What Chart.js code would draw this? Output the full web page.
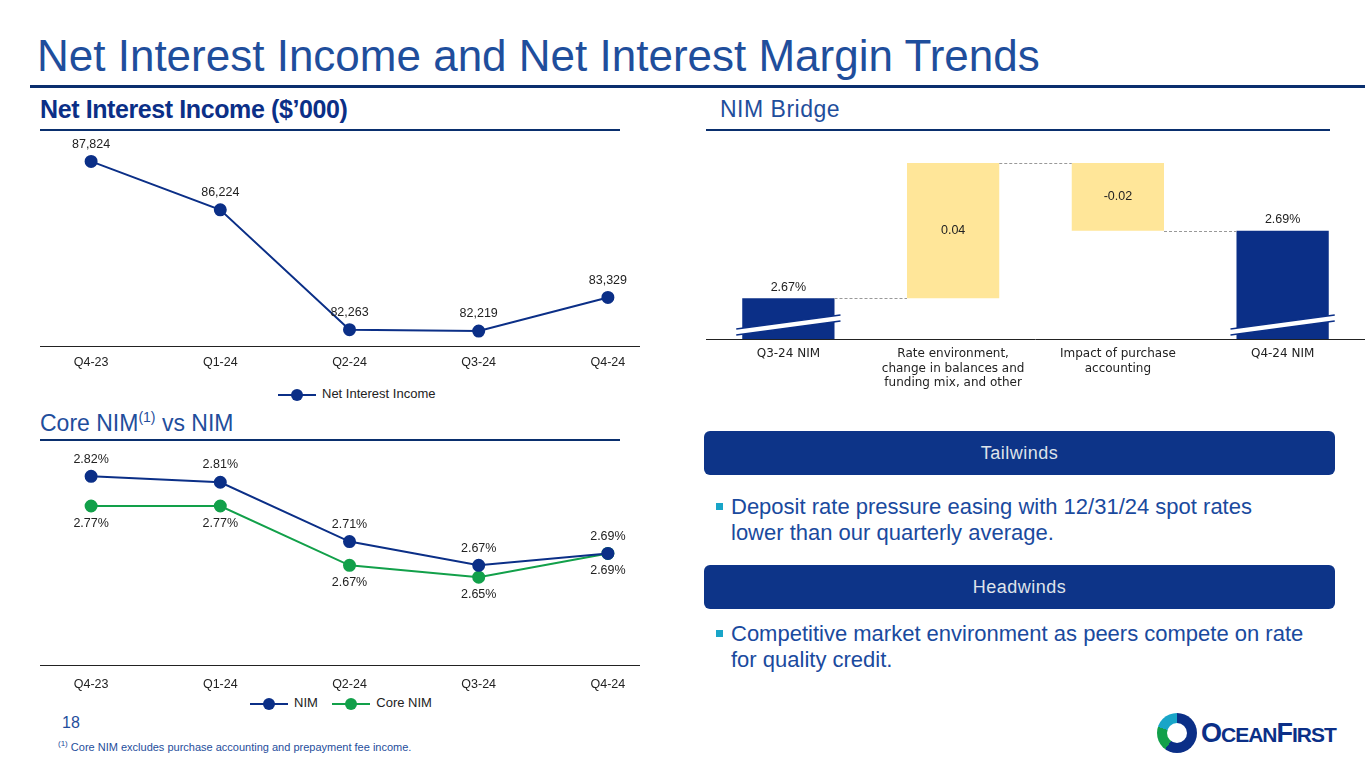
<!DOCTYPE html>
<html><head><meta charset="utf-8">
<script src="https://cdn.jsdelivr.net/npm/chart.js@4/dist/chart.umd.min.js"></script>
<style>
body{margin:0;width:1365px;height:768px;position:relative;background:#fff;font-family:"Liberation Sans",Arial,sans-serif;overflow:hidden}
.a{position:absolute;white-space:nowrap}
canvas{position:absolute}
.box{position:absolute;left:704px;width:631px;height:44px;background:#0d3488;border-radius:6px;color:#dfe3ea;font-size:18px;text-align:center;line-height:44px;letter-spacing:0.5px}
.bul{position:absolute;left:731px;color:#1a4a9e;font-size:22px;line-height:26px}
.bul:before{content:"";position:absolute;left:-15px;top:9px;width:7px;height:7px;background:#19a5c8}
.leg{position:absolute;font-size:13px;color:#222}
.leg i{display:inline-block;width:38px;height:2px;vertical-align:middle;position:relative;margin-right:6px}
.leg i:after{content:"";position:absolute;left:13px;top:-5px;width:12px;height:12px;border-radius:6px;background:inherit}
</style></head><body>
<div class="a" style="left:37px;top:31px;font-size:44px;color:#1f4e9c">Net Interest Income and Net Interest Margin Trends</div>
<div class="a" style="left:30px;top:85px;width:1335px;height:3px;background:#0a2f6e"></div>
<div class="a" style="left:40px;top:95px;font-size:25px;font-weight:bold;color:#0b2f87;letter-spacing:-0.4px">Net Interest Income ($’000)</div>
<div class="a" style="left:720px;top:96px;font-size:23px;color:#1f4e9c;letter-spacing:0.5px">NIM Bridge</div>
<div class="a" style="left:706px;top:129px;width:624px;height:2px;background:#0a2f6e"></div>
<div class="a" style="left:40px;top:409px;font-size:23px;color:#1f4e9c">Core NIM<sup style="font-size:14px">(1)</sup> vs NIM</div>
<canvas id="c1" width="661" height="256" style="left:19px;top:120px"></canvas>
<canvas id="c2" width="661" height="260" style="left:19px;top:435px"></canvas>
<canvas id="c3" width="659" height="253" style="left:706px;top:146px"></canvas>
<div class="a" style="left:40px;top:129px;width:580px;height:2px;background:#0a2f6e"></div>
<div class="a" style="left:40px;top:439px;width:580px;height:2px;background:#0a2f6e"></div>
<div class="leg" style="left:278px;top:386px"><i style="background:#0b2f87"></i>Net Interest Income</div>
<div class="leg" style="left:250px;top:695px"><i style="background:#0b2f87"></i>NIM&nbsp;&nbsp;&nbsp;&nbsp;<i style="background:#12a04a"></i>Core NIM</div>
<div class="box" style="top:431px">Tailwinds</div>
<div class="box" style="top:565px">Headwinds</div>
<div class="bul" style="top:494px">Deposit rate pressure easing with 12/31/24 spot rates<br>lower than our quarterly average.</div>
<div class="bul" style="top:621px">Competitive market environment as peers compete on rate<br>for quality credit.</div>
<div class="a" style="left:62px;top:714px;font-size:16px;color:#1f4e9c">18</div>
<div class="a" style="left:58px;top:739px;font-size:11px;color:#1f4e9c"><sup style="font-size:8px">(1)</sup> Core NIM excludes purchase accounting and prepayment fee income.</div>
<div class="a" style="left:1157px;top:713px;width:40px;height:40px;border-radius:50%;background:conic-gradient(#0b2f87 0 60%,#12a04a 60% 80%,#19a5c8 80%)"></div>
<div class="a" style="left:1167px;top:723px;width:20px;height:20px;border-radius:50%;background:#fff"></div>
<div class="a" style="left:1201px;top:718px;font-size:27px;font-weight:bold;color:#0b2f87;letter-spacing:-1px">O<span style="font-size:21px">CEAN</span>F<span style="font-size:21px">IRST</span></div>
<script>
const quarters=["Q4-23","Q1-24","Q2-24","Q3-24","Q4-24"];
const nii=[87824,86224,82263,82219,83329];
const nim=[2.82,2.81,2.71,2.67,2.69];
const coreNim=[2.77,2.77,2.67,2.65,2.69];
const bridgeCats=[["Q3-24 NIM"],["Rate environment,","change in balances and","funding mix, and other"],["Impact of purchase","accounting"],["Q4-24 NIM"]];
const bridgeStart=[2.67,2.67,2.71,2.69];
const bridgeEnd=[2.67,2.71,2.69,2.69];
const bridgeLabels=["2.67%","0.04","-0.02","2.69%"];
const bridgeBase=2.658;
const NAVY="#0b2f87",GREEN="#12a04a";
Chart.defaults.font.family='"Liberation Sans",Arial,sans-serif';
Chart.defaults.color="#222";
function axisLine(l,r){return{id:'ax',afterDraw(c){const a=c.chartArea,x=c.ctx;x.save();x.strokeStyle='#222';x.lineWidth=1;x.beginPath();x.moveTo(l==null?a.left:l,a.bottom+0.5);x.lineTo(r==null?a.right:r,a.bottom+0.5);x.stroke();x.restore();}};}
function xScale(pad,lines){return{offset:true,grid:{display:false,drawTicks:false},border:{display:false},afterFit(s){s.height=lines},ticks:{padding:pad,font:{size:12.5},color:'#222'}};}
function labels(cfg){return{id:'lbl',afterDatasetsDraw(c){const x=c.ctx;x.save();x.font='12.5px "Liberation Sans",Arial';x.fillStyle='#222';x.textAlign='center';
cfg.forEach(([ds,fmt,pos])=>{c.getDatasetMeta(ds).data.forEach((p,i)=>{const v=c.data.datasets[ds].data[i];const below=pos(i);x.textBaseline=below?'top':'bottom';x.fillText(fmt(v),p.x,below?p.y+11:p.y-11);});});x.restore();}};}
const topPad={top:7};
new Chart(c1,{type:'line',data:{labels:quarters,datasets:[{data:nii,borderColor:NAVY,backgroundColor:NAVY,borderWidth:2,pointRadius:5.5,pointHoverRadius:5.5}]},
options:{responsive:false,animation:false,layout:{padding:topPad},plugins:{legend:{display:false},tooltip:{enabled:false}},
scales:{x:xScale(9,30),y:{display:false,min:81725,max:88945}}},plugins:[axisLine(21,621),labels([[0,v=>v.toLocaleString('en-US'),i=>false]])]});
new Chart(c2,{type:'line',data:{labels:quarters,datasets:[{data:nim,borderColor:NAVY,backgroundColor:NAVY,borderWidth:2,pointRadius:5.5},{data:coreNim,borderColor:GREEN,backgroundColor:GREEN,borderWidth:2,pointRadius:5.5}]},
options:{responsive:false,animation:false,layout:{padding:topPad},plugins:{legend:{display:false},tooltip:{enabled:false}},
scales:{x:xScale(12,30),y:{display:false,min:2.502,max:2.877}}},plugins:[axisLine(21,621),labels([[0,v=>v.toFixed(2)+'%',i=>false],[1,v=>v.toFixed(2)+'%',i=>true]])]});
const bars=bridgeStart.map((s,i)=>i==0||i==3?[bridgeBase,bridgeEnd[i]]:[Math.min(s,bridgeEnd[i]),Math.max(s,bridgeEnd[i])]);
const wf={id:'wf',afterDatasetsDraw(c){const x=c.ctx,m=c.getDatasetMeta(0).data,y=c.scales.y;x.save();
x.strokeStyle='#999';x.setLineDash([3,2]);x.lineWidth=1;
for(let i=0;i<3;i++){const yy=Math.round(y.getPixelForValue(bridgeEnd[i]))+0.5;x.beginPath();x.moveTo(m[i].x+m[i].width/2,yy);x.lineTo(m[i+1].x-m[i+1].width/2,yy);x.stroke();}
x.setLineDash([]);
[0,3].forEach(i=>{const b=m[i],yb=y.getPixelForValue(bridgeBase)-12;
x.strokeStyle='#fff';x.lineWidth=6;x.beginPath();x.moveTo(b.x-b.width/2-6,yb+5);x.lineTo(b.x+b.width/2+6,yb-9);x.stroke();
x.strokeStyle=NAVY;x.lineWidth=1.5;[-3,3].forEach(d=>{x.beginPath();x.moveTo(b.x-b.width/2-6,yb+5+d);x.lineTo(b.x+b.width/2+6,yb-9+d);x.stroke();});});
x.font='12.5px "Liberation Sans",Arial';x.fillStyle='#222';x.textAlign='center';
m.forEach((b,i)=>{if(i==0||i==3){x.textBaseline='bottom';x.fillText(bridgeLabels[i],b.x,b.y-5);}else{x.textBaseline='middle';x.fillText(bridgeLabels[i],b.x,(b.y+b.base)/2);}});
x.restore();}};
new Chart(c3,{type:'bar',data:{labels:bridgeCats,datasets:[{data:bars,backgroundColor:[NAVY,'#ffe699','#ffe699',NAVY],barPercentage:0.56,categoryPercentage:1}]},
options:{responsive:false,animation:false,layout:{padding:0},plugins:{legend:{display:false},tooltip:{enabled:false}},
scales:{x:{grid:{display:false,drawTicks:false},border:{display:false},afterFit(s){s.height=60},ticks:{padding:8,font:{size:12,family:'"DejaVu Sans"'},color:'#222'}},y:{display:false,min:bridgeBase,max:2.715}}},plugins:[axisLine(),wf]});
</script></body></html>
